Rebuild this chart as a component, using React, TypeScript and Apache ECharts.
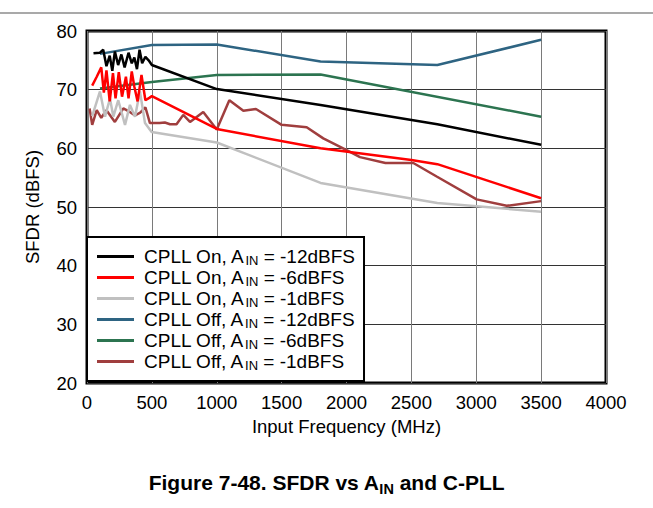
import React, { useEffect, useRef } from "react";
import * as echarts from "echarts";

const xTicks = [0, 500, 1000, 1500, 2000, 2500, 3000, 3500, 4000];
const yTicks = [20, 30, 40, 50, 60, 70, 80];

const seriesNames = [
  "CPLL On, A_IN = -12dBFS",
  "CPLL On, A_IN = -6dBFS",
  "CPLL On, A_IN = -1dBFS",
  "CPLL Off, A_IN = -12dBFS",
  "CPLL Off, A_IN = -6dBFS",
  "CPLL Off, A_IN = -1dBFS",
];

const onM12: [number, number][] = [
  [50, 76.2], [100, 76.3], [125, 76.8], [150, 74.0], [175, 75.8], [195, 73.2],
  [215, 76.5], [240, 74.2], [265, 76.0], [290, 73.8], [320, 76.3], [345, 74.5],
  [365, 75.5], [385, 73.5], [405, 76.8], [425, 74.5], [450, 75.6], [475, 75.0],
  [500, 74.2], [1000, 70.1], [1800, 67.4], [2700, 64.1], [3500, 60.6],
];
const onM6: [number, number][] = [
  [40, 70.7], [75, 72.2], [110, 73.8], [130, 69.5], [150, 73.3], [175, 68.0],
  [200, 72.8], [220, 68.5], [245, 73.0], [270, 68.8], [300, 72.2], [320, 68.5],
  [345, 73.1], [365, 70.5], [390, 68.0], [420, 72.5], [450, 68.2], [480, 68.6],
  [500, 68.9], [1000, 63.3], [1800, 60.0], [2500, 58.0], [2700, 57.3], [3500, 51.5],
];
const onM1: [number, number][] = [
  [40, 65.5], [100, 69.7], [139, 65.4], [177, 68.5], [203, 65.4], [241, 68.2],
  [293, 64.0], [331, 67.4], [370, 65.4], [408, 69.7], [447, 64.3], [498, 62.8],
  [1000, 61.0], [1800, 54.1], [2700, 50.7], [3500, 49.2],
];
const offM12: [number, number][] = [
  [100, 76.1], [500, 77.6], [1000, 77.7], [1800, 74.8], [2700, 74.2], [3500, 78.5],
];
const offM6: [number, number][] = [
  [100, 70.2], [500, 71.3], [1000, 72.5], [1800, 72.6], [3500, 65.4],
];
const offM1: [number, number][] = [
  [20, 66.8], [40, 64.0], [75, 66.5], [110, 65.2], [150, 66.5], [215, 64.5],
  [280, 66.8], [330, 66.2], [370, 65.6], [410, 66.1], [450, 67.0], [485, 64.3],
  [560, 64.3], [600, 64.4], [640, 64.1], [690, 64.1], [742, 65.7], [794, 64.5],
  [896, 66.2], [1000, 63.2], [1097, 68.2], [1205, 66.4], [1302, 66.7], [1500, 64.0],
  [1693, 63.6], [1821, 61.7], [2001, 59.7], [2104, 58.5], [2300, 57.5], [2515, 57.5],
  [2695, 55.2], [3003, 51.3], [3235, 50.2], [3500, 51.0],
];

const seriesData = [onM12, onM6, onM1, offM12, offM6, offM1];
const seriesColors = ["#000000", "#ff0000", "#c0c0c0", "#2e6482", "#2c7450", "#a03e3e"];

const FONT = "'Liberation Sans', Arial, Helvetica, sans-serif";

export default function App() {
  const ref = useRef<HTMLDivElement>(null);
  useEffect(() => {
    document.body.style.margin = "0";
    if (!ref.current) return;
    const chart = echarts.init(ref.current, undefined, { renderer: "svg" });
    const option: any = {
      animation: false,
      backgroundColor: "#ffffff",
      textStyle: { fontFamily: FONT },
      title: {
        text: "{b|Figure 7-48. SFDR vs A}{s|IN}{b| and C-PLL}",
        left: "center",
        top: 464,
        textStyle: {
          rich: {
            b: { fontFamily: FONT, fontSize: 21, fontWeight: "bold", color: "#000", lineHeight: 27 },
            s: { fontFamily: FONT, fontSize: 14.5, fontWeight: "bold", color: "#000", lineHeight: 27, verticalAlign: "bottom" },
          },
        },
      },
      graphic: [
        {
          type: "line",
          shape: { x1: 0, y1: 13, x2: 653, y2: 13 },
          style: { stroke: "#8c8c8c", lineWidth: 1.5 },
          silent: true,
        },
      ],
      grid: {
        left: 87,
        right: 47,
        top: 31,
        bottom: 125,
        show: true,
        borderColor: "#000",
        borderWidth: 3,
        backgroundColor: "transparent",
      },
      xAxis: {
        type: "value",
        min: xTicks[0],
        max: xTicks[xTicks.length - 1],
        interval: 500,
        name: "Input Frequency (MHz)",
        nameLocation: "middle",
        nameGap: 32,
        nameTextStyle: { fontSize: 18.5, color: "#000", fontFamily: FONT },
        axisLine: { show: false },
        axisTick: { show: false },
        axisLabel: {
          fontSize: 18.5,
          color: "#000",
          margin: 10,
          fontFamily: FONT,
          formatter: (v: number) => String(v),
        },
        splitLine: { show: true, lineStyle: { color: "#7a7a7a", width: 1 } },
      },
      yAxis: {
        type: "value",
        min: yTicks[0],
        max: yTicks[yTicks.length - 1],
        interval: 10,
        name: "SFDR (dBFS)",
        nameLocation: "middle",
        nameGap: 45,
        nameTextStyle: { fontSize: 18.5, color: "#000", fontFamily: FONT },
        axisLine: { show: false },
        axisTick: { show: false },
        axisLabel: {
          fontSize: 18.5,
          color: "#000",
          margin: 10,
          fontFamily: FONT,
          formatter: (v: number) => String(v),
        },
        splitLine: { show: true, lineStyle: { color: "#333333", width: 1 } },
      },
      legend: {
        orient: "vertical",
        left: 87,
        top: 237,
        padding: [10, 9, 9, 10],
        itemGap: 1,
        itemWidth: 37,
        itemHeight: 3,
        icon: "rect",
        backgroundColor: "#ffffff",
        borderColor: "#000000",
        borderWidth: 2,
        selectedMode: false,
        data: seriesNames,
        formatter: (name: string) => {
          const parts = name.split("A_IN");
          return `{n0|${parts[0]}A}{sub|IN}{n|${parts[1]}}`;
        },
        textStyle: {
          color: "#000",
          fontFamily: FONT,
          fontSize: 19,
          rich: {
            n0: { fontFamily: FONT, fontSize: 19, color: "#000", lineHeight: 21, padding: [0, 0, 0, 5] },
            n: { fontFamily: FONT, fontSize: 19, color: "#000", lineHeight: 21 },
            sub: { fontFamily: FONT, fontSize: 13, color: "#000", lineHeight: 21, verticalAlign: "bottom" },
          },
        },
      },
      series: seriesNames.map((name, i) => ({
        name,
        type: "line",
        data: seriesData[i],
        symbol: "none",
        showSymbol: false,
        color: seriesColors[i],
        lineStyle: { color: seriesColors[i], width: 2.5 },
        z: 10 - i,
      })),
    };
    chart.setOption(option);
    return () => chart.dispose();
  }, []);
  return <div ref={ref} style={{ width: 653, height: 508 }} />;
}
